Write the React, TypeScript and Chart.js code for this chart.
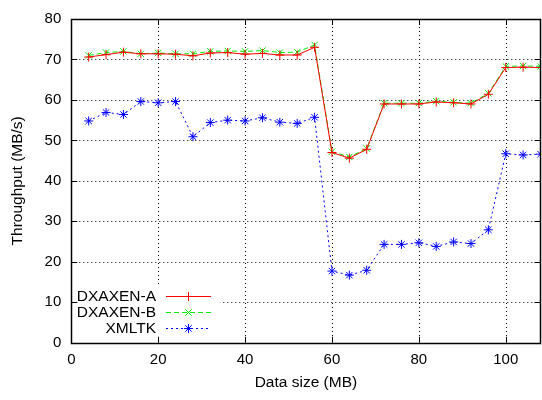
import React, { useEffect, useRef } from "react";
import { Chart, registerables } from "chart.js";
Chart.register(...registerables);

const sizes = [4, 8, 12, 16, 20, 24, 28, 32, 36, 40, 44, 48, 52, 56, 60, 64, 68, 72, 76, 80, 84, 88, 92, 96, 100, 104, 108];
const dxaxenA = [70.6, 71.2, 71.8, 71.4, 71.4, 71.3, 70.9, 71.6, 71.7, 71.3, 71.5, 71.1, 71.1, 73.0, 47.0, 45.6, 47.8, 59.0, 59.0, 59.0, 59.5, 59.3, 59.0, 61.4, 68.0, 68.1, 68.0];
const dxaxenB = [71.0, 71.7, 72.0, 71.4, 71.6, 71.4, 71.4, 72.0, 72.1, 72.0, 72.2, 71.7, 71.8, 73.6, 47.2, 45.9, 48.0, 59.2, 59.2, 59.2, 59.7, 59.4, 59.2, 61.6, 68.3, 68.4, 68.3];
const xmltk = [54.8, 56.9, 56.4, 59.6, 59.3, 59.6, 50.9, 54.4, 55.0, 54.8, 55.6, 54.5, 54.2, 55.7, 17.7, 16.7, 17.9, 24.3, 24.3, 24.7, 23.8, 24.9, 24.5, 27.9, 46.7, 46.4, 46.6];
const seriesNames = ["DXAXEN-A", "DXAXEN-B", "XMLTK"];
const xTicks = [0, 20, 40, 60, 80, 100];
const yTicks = [0, 10, 20, 30, 40, 50, 60, 70, 80];
const xTitle = "Data size (MB)";
const yTitle = "Throughput (MB/s)";

const FONT = '"Liberation Sans", Arial, sans-serif';

export default function App() {
  const ref = useRef<HTMLCanvasElement | null>(null);
  useEffect(() => {
    const canvas = ref.current!;
    const colors = ["#ff0000", "#00ee00", "#0000ff"];
    const dashes = [[], [5, 3], [2, 3]];
    const styles = ["cross", "crossRot", "star"];
    const vals = [dxaxenA, dxaxenB, xmltk];

    const framePlugin = {
      id: "gnuframe",
      beforeDatasetsDraw(chart: any) {
        const { ctx, chartArea: a, scales } = chart;
        ctx.save();
        ctx.strokeStyle = "#000";
        ctx.lineWidth = 1;
        ctx.setLineDash([1, 3]);
        xTicks.forEach((v) => {
          if (v === 0) return;
          const x = Math.round(scales.x.getPixelForValue(v)) + 0.5;
          ctx.beginPath();
          ctx.moveTo(x, a.top);
          ctx.lineTo(x, a.bottom);
          ctx.stroke();
        });
        yTicks.forEach((v) => {
          if (v === 0 || v === 80) return;
          const y = Math.round(scales.y.getPixelForValue(v)) + 0.5;
          ctx.beginPath();
          ctx.moveTo(a.left, y);
          ctx.lineTo(a.right, y);
          ctx.stroke();
        });
        ctx.restore();
      },
      afterDatasetsDraw(chart: any) {
        const { ctx, chartArea: a, scales } = chart;
        ctx.save();
        // legend
        ctx.fillStyle = "#ffffff";
        ctx.fillRect(a.left + 1, 286, 148, 51);
        const rowsY = [296, 312, 328];
        ctx.font = `15.5px ${FONT}`;
        ctx.textAlign = "right";
        ctx.textBaseline = "middle";
        rowsY.forEach((y, i) => {
          ctx.fillStyle = "#000";
          ctx.fillText(seriesNames[i], 156, y + 0.5);
          ctx.strokeStyle = colors[i];
          ctx.lineWidth = 1;
          ctx.setLineDash(dashes[i]);
          ctx.beginPath();
          ctx.moveTo(166, y + 0.5);
          ctx.lineTo(211, y + 0.5);
          ctx.stroke();
          ctx.setLineDash([]);
          const cx = 188.5, cy = y + 0.5, r = 4.5;
          ctx.beginPath();
          if (i === 0 || i === 2) {
            ctx.moveTo(cx - r, cy); ctx.lineTo(cx + r, cy);
            ctx.moveTo(cx, cy - r); ctx.lineTo(cx, cy + r);
          }
          if (i === 1 || i === 2) {
            const d = r * 0.7071;
            ctx.moveTo(cx - d, cy - d); ctx.lineTo(cx + d, cy + d);
            ctx.moveTo(cx - d, cy + d); ctx.lineTo(cx + d, cy - d);
          }
          ctx.stroke();
        });
        // tick marks
        ctx.strokeStyle = "#000";
        ctx.lineWidth = 1;
        const tl = 6;
        ctx.beginPath();
        xTicks.forEach((v) => {
          const x = Math.round(scales.x.getPixelForValue(v)) + 0.5;
          ctx.moveTo(x, a.bottom); ctx.lineTo(x, a.bottom - tl);
          ctx.moveTo(x, a.top); ctx.lineTo(x, a.top + tl);
        });
        yTicks.forEach((v) => {
          const y = Math.round(scales.y.getPixelForValue(v)) + 0.5;
          ctx.moveTo(a.left, y); ctx.lineTo(a.left + tl, y);
          ctx.moveTo(a.right, y); ctx.lineTo(a.right - tl, y);
        });
        ctx.stroke();
        // frame
        ctx.lineWidth = 1.5;
        ctx.strokeRect(Math.round(a.left) + 0.5, Math.round(a.top) + 0.5, Math.round(a.right - a.left), Math.round(a.bottom - a.top));
        // titles
        ctx.fillStyle = "#000";
        ctx.font = `15.5px ${FONT}`;
        ctx.textAlign = "center";
        ctx.textBaseline = "middle";
        ctx.fillText(xTitle, (a.left + a.right) / 2, 383);
        ctx.translate(18, (a.top + a.bottom) / 2);
        ctx.rotate(-Math.PI / 2);
        ctx.fillText(yTitle, 0, 0);
        ctx.restore();
      },
    };

    const chart = new Chart(canvas, {
      type: "line",
      data: {
        datasets: vals.map((v, i) => ({
          label: seriesNames[i],
          data: sizes.map((x, j) => ({ x, y: v[j] })),
          borderColor: colors[i],
          backgroundColor: colors[i],
          borderWidth: 1,
          borderDash: dashes[i],
          pointStyle: styles[i] as any,
          pointRadius: 4.5,
          pointBorderWidth: 1,
          pointBorderColor: colors[i],
          fill: false,
          tension: 0,
        })),
      },
      options: {
        responsive: false,
        animation: false,
        events: [],
        layout: { padding: { left: 0, right: 2.2, top: 10, bottom: 0 } },
        plugins: { legend: { display: false }, tooltip: { enabled: false } },
        scales: {
          x: {
            type: "linear",
            min: 0,
            max: 108,
            grid: { display: false, drawTicks: false },
            border: { display: false },
            afterFit: (s: any) => { s.height = 57.3; },
            afterBuildTicks: (s: any) => { s.ticks = xTicks.map((v) => ({ value: v })); },
            ticks: { color: "#000", font: { family: FONT, size: 15 }, padding: 8, maxRotation: 0 },
          },
          y: {
            type: "linear",
            min: 0,
            max: 80,
            grid: { display: false, drawTicks: false },
            border: { display: false },
            afterFit: (s: any) => { s.width = 71.3; },
            afterBuildTicks: (s: any) => { s.ticks = yTicks.map((v) => ({ value: v })); },
            ticks: { color: "#000", font: { family: FONT, size: 15 }, padding: 10 },
          },
        },
      },
      plugins: [framePlugin],
    });
    return () => chart.destroy();
  }, []);

  return (
    <div style={{ position: "absolute", left: 0, top: 0, width: 542, height: 400, overflow: "hidden", background: "#fff" }}>
      <canvas ref={ref} width={546} height={400} style={{ display: "block" }} />
    </div>
  );
}
